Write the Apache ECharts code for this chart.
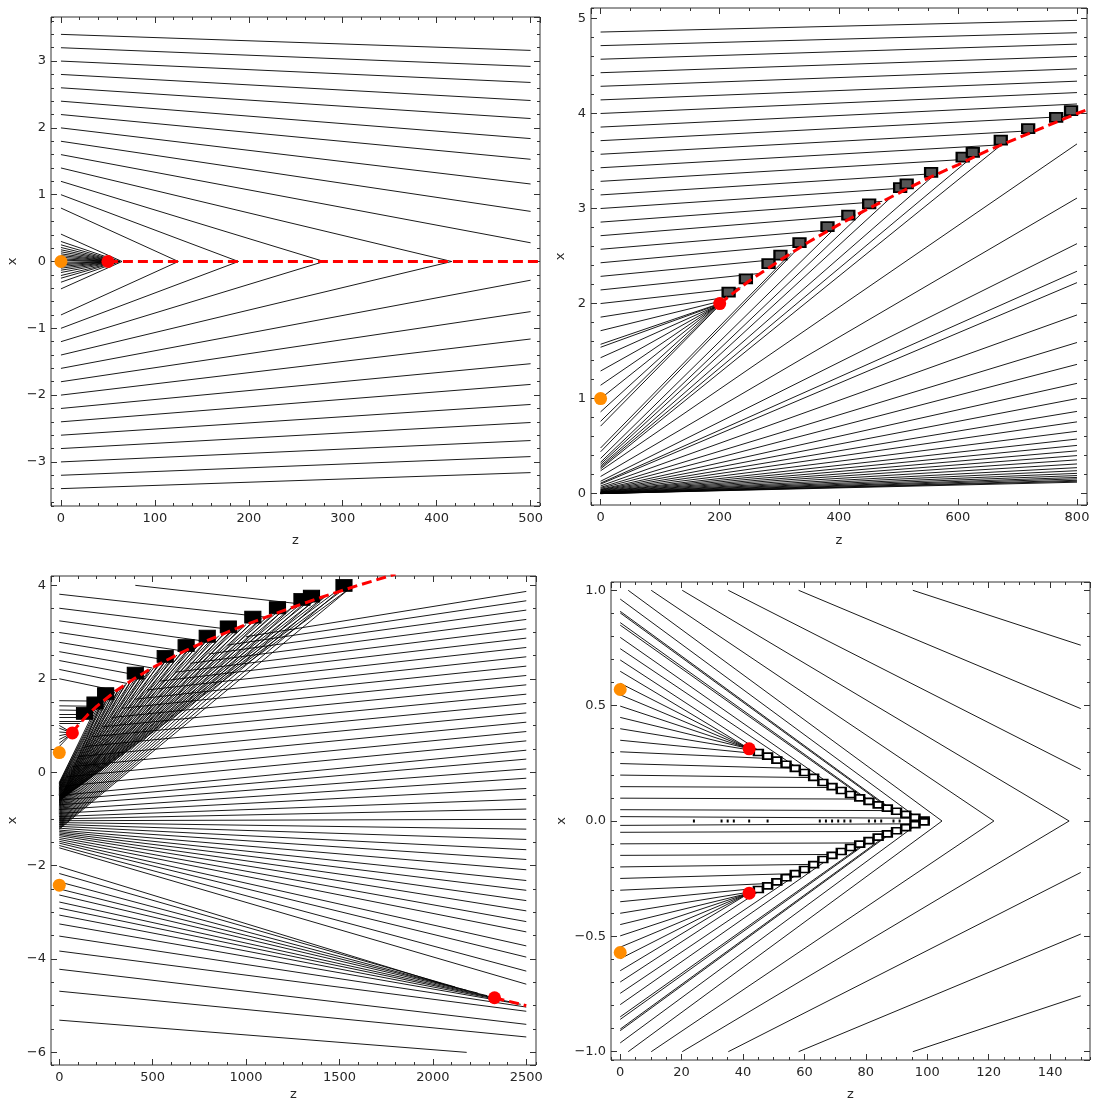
<!DOCTYPE html>
<html>
<head>
<meta charset="utf-8">
<script src="https://cdn.jsdelivr.net/npm/echarts@6/dist/echarts.min.js"></script>
<style>
html, body { margin: 0; padding: 0; background: #fff; }
#chart { width: 1093px; height: 1104px; }
</style>
</head>
<body>
<div id="chart"></div>
<script>
// ---------- panel 1 (top left) ----------
const p1UpStart = [3.4, 3.2, 3.0, 2.8, 2.6, 2.4, 2.2, 2.0, 1.8, 1.6, 1.4, 1.2, 1.0, 0.8, 0.41, 0.30, 0.25, 0.21, 0.175, 0.145, 0.115, 0.09, 0.065, 0.04, 0.02];
const p1UpEndX = [3.16, 2.92, 2.68, 2.41, 2.14, 1.84, 1.53, 1.16, 0.75, 0.28, 0, 0, 0, 0, 0, 0, 0, 0, 0, 0, 0, 0, 0, 0, 0];
const p1LoStart = [-3.4, -3.2, -3.0, -2.8, -2.6, -2.4, -2.2, -2.0, -1.8, -1.6, -1.4, -1.2, -1.0, -0.8, -0.41, -0.31, -0.25, -0.21, -0.165, -0.13, -0.10, -0.075, -0.05, -0.03, -0.01];
const p1LoEndX = [-3.16, -2.92, -2.68, -2.41, -2.14, -1.84, -1.53, -1.16, -0.75, -0.28, 0, 0, 0, 0, 0, 0, 0, 0, 0, 0, 0, 0, 0, 0, 0];
const p1EndZ = [500, 500, 500, 500, 500, 500, 500, 500, 500, 500, 416, 280, 189, 125, 65, 63, 62, 61, 60, 59, 58, 57, 56, 55, 54];
const p1ShockZ = [50, 515];
const p1ShockX = [0, 0];
const p1Orange = [[0, 0]];
const p1Red = [[50, 0]];

// ---------- panel 2 (top right) ----------
const p2UpStart = [4.857, 4.714, 4.571, 4.429, 4.286, 4.143, 4.0, 3.857, 3.714, 3.571, 3.429, 3.286, 3.143, 3.0, 2.857, 2.714, 2.571, 2.429, 2.286, 2.143, 2.0, 1.857, 1.714, 1.571];
const p2UpEndZ = [800, 800, 800, 800, 800, 800, 800, 800, 787, 729, 672, 620, 568, 520, 473, 428, 385, 345, 305, 268, 235, 215, 205, 200];
const p2UpEndX = [4.98, 4.85, 4.73, 4.60, 4.47, 4.34, 4.22, 4.10, 3.97, 3.82, 3.67, 3.52, 3.37, 3.22, 3.075, 2.93, 2.775, 2.626, 2.47, 2.317, 2.165, 2.07, 2.03, 2.0];
const p2MidStart = [1.54, 1.43, 1.29, 1.14, 1.0, 0.86, 0.76, 0.71, 0.48, 0.44, 0.37, 0.33, 0.31, 0.29, 0.275, 0.26];
const p2MidEndZ = [198, 196, 195, 196, 198, 200, 205, 212, 320, 330, 398, 442, 490, 560, 620, 671];
const p2MidEndX = [1.99, 1.98, 1.975, 1.98, 1.99, 2.0, 2.025, 2.06, 2.53, 2.57, 2.82, 2.97, 3.13, 3.35, 3.52, 3.66];
const p2FanStart = [0.24, 0.18, 0.13, 0.11, 0.10, 0.08, 0.065, 0.055, 0.045, 0.04, 0.035, 0.03, 0.025, 0.02, 0.018, 0.015, 0.012, 0.01, 0.008, 0.006, 0.005, 0.004, 0.003, 0.002, 0.001, 0, 0, 0];
const p2FanEnd = [3.68, 3.11, 2.63, 2.34, 2.22, 1.88, 1.59, 1.36, 1.16, 1.0, 0.865, 0.755, 0.656, 0.574, 0.507, 0.45, 0.40, 0.355, 0.312, 0.273, 0.241, 0.213, 0.19, 0.17, 0.155, 0.14, 0.13, 0.12];
const p2ShockZ = [200, 250, 300, 350, 400, 450, 500, 550, 600, 650, 700, 750, 800, 830];
const p2ShockX = [2.0, 2.24, 2.45, 2.65, 2.83, 3.0, 3.16, 3.32, 3.46, 3.61, 3.74, 3.87, 4.0, 4.07];
const p2BoxZ = [215, 244, 282, 302, 334, 381, 416, 451, 503, 514, 555, 608, 625, 672, 718, 765, 790];
const p2BoxX = [2.12, 2.26, 2.42, 2.51, 2.64, 2.81, 2.93, 3.05, 3.22, 3.26, 3.38, 3.54, 3.59, 3.72, 3.84, 3.96, 4.03];
const p2Orange = [[0, 1.0]];
const p2Red = [[200, 2.0]];

// ---------- panel 3 (bottom left) ----------
const p3UpStartZ = [407, 0, 0, 0, 0, 0, 0, 0, 0, 0, 0, 0, 0, 0, 0, 0, 0, 0, 0, 0, 0, 0, 0, 0];
const p3UpStartX = [4.0, 3.81, 3.51, 3.24, 2.99, 2.78, 2.58, 2.39, 2.20, 2.0, 1.53, 1.42, 1.33, 1.25, 1.18, 1.1, 1.05, 1.0, 0.94, 0.86, 0.78, 0.70, 0.62, 0.55];
const p3UpEndZ = [1295, 1100, 928, 785, 670, 575, 498, 428, 362, 303, 230, 200, 175, 155, 140, 120, 110, 70, 70, 70, 70, 70, 70, 70];
const p3UpEndX = [3.6, 3.32, 3.05, 2.80, 2.59, 2.40, 2.23, 2.07, 1.90, 1.745, 1.52, 1.41, 1.32, 1.25, 1.18, 1.10, 1.05, 0.84, 0.84, 0.84, 0.84, 0.84, 0.84, 0.84];
// fan lines running from the dark region at z=0 into the shock
const p3FanStart = [-0.22, -0.24, -0.25, -0.27, -0.28, -0.30, -0.31, -0.33, -0.34, -0.35,
  -0.36, -0.37, -0.38, -0.39, -0.40, -0.41, -0.42, -0.43, -0.44, -0.45,
  -0.46, -0.47, -0.475, -0.48, -0.49, -0.50, -0.505, -0.51, -0.52, -0.525,
  -0.53, -0.54, -0.545, -0.55, -0.56, -0.565, -0.57, -0.58, -0.585, -0.59,
  -0.595, -0.60, -0.605, -0.61];
const p3FanHitZ = [200, 215, 230, 245, 260, 280, 300, 320, 340, 360,
  385, 410, 435, 460, 485, 510, 540, 570, 600, 630,
  660, 690, 720, 750, 785, 820, 855, 890, 925, 960,
  1000, 1040, 1080, 1120, 1160, 1200, 1245, 1290, 1335, 1380,
  1425, 1470, 1515, 1560];
const p3FanHitX = [1.414, 1.466, 1.517, 1.565, 1.612, 1.673, 1.732, 1.789, 1.844, 1.897,
  1.962, 2.025, 2.086, 2.145, 2.202, 2.258, 2.324, 2.387, 2.449, 2.510,
  2.569, 2.627, 2.683, 2.739, 2.802, 2.864, 2.924, 2.983, 3.041, 3.098,
  3.162, 3.225, 3.286, 3.347, 3.406, 3.464, 3.528, 3.592, 3.654, 3.715,
  3.775, 3.834, 3.892, 3.950];
const p3Fan2Start = [-0.64, -0.66, -0.68, -0.70, -0.72, -0.74, -0.76, -0.78, -0.80, -0.82,
  -0.84, -0.86, -0.88, -0.90, -0.92, -0.94, -0.96, -0.98, -1.00, -1.02,
  -1.04, -1.06, -1.08, -1.10, -1.12, -1.14, -1.16, -1.18, -1.20, -1.22];
const p3Fan2HitZ = [230, 260, 290, 320, 350, 385, 420, 455, 490, 530,
  570, 610, 650, 695, 740, 785, 830, 880, 930, 980,
  1030, 1085, 1140, 1195, 1250, 1310, 1370, 1430, 1495, 1560];
const p3Fan2HitX = [1.517, 1.612, 1.703, 1.789, 1.871, 1.962, 2.049, 2.133, 2.214, 2.302,
  2.387, 2.470, 2.550, 2.636, 2.720, 2.802, 2.881, 2.966, 3.050, 3.130,
  3.209, 3.294, 3.376, 3.457, 3.536, 3.619, 3.701, 3.782, 3.866, 3.950];
// rays leaving the dark fan region towards the right edge
const p3RayStartZ = [1000, 900, 800, 700, 620, 540, 470, 400, 340, 280, 230, 180, 140, 100, 70, 40, 20, 0, 0, 0, 0, 0, 0, 0, 0];
const p3RayStartX = [2.90, 2.72, 2.53, 2.33, 2.14, 1.95, 1.76, 1.56, 1.37, 1.17, 0.97, 0.76, 0.55, 0.33, 0.12, -0.10, -0.30, -0.50, -0.60, -0.70, -0.80, -0.88, -0.95, -1.0, -1.04];
const p3RayEnd = [3.87, 3.67, 3.47, 3.27, 3.07, 2.87, 2.67, 2.47, 2.27, 2.07, 1.87, 1.67, 1.47, 1.27, 1.07, 0.87, 0.67, 0.47, 0.28, 0.07, -0.13, -0.35, -0.58, -0.79, -1.01];
const p3DownStart = [-1.08, -1.12, -1.16, -1.2, -1.24, -1.27, -1.30, -1.33, -1.36, -1.40, -1.44, -1.48, -1.52, -1.57, -1.62];
const p3DownEnd = [-1.22, -1.44, -1.66, -1.87, -2.09, -2.32, -2.53, -2.75, -2.97, -3.2, -3.42, -3.72, -3.96, -4.26, -4.54];
const p3LowStart = [-2.02, -2.17, -2.35, -2.5, -2.63, -2.78, -2.91, -3.06, -3.25, -3.51, -3.83, -4.22, -4.69, -5.31];
const p3LowEndZ = [2050, 2120, 2180, 2240, 2290, 2330, 2380, 2430, 2470, 2500, 2500, 2500, 2500, 2181];
const p3LowEndX = [-4.53, -4.60, -4.67, -4.73, -4.785, -4.83, -4.88, -4.93, -4.97, -5.03, -5.12, -5.40, -5.67, -6.0];
const p3ShockZ = [70, 100, 150, 200, 300, 400, 500, 600, 700, 800, 900, 1000, 1200, 1400, 1600, 1800];
const p3ShockX = [0.84, 1.0, 1.22, 1.41, 1.73, 2.0, 2.24, 2.45, 2.65, 2.83, 3.0, 3.16, 3.46, 3.74, 4.0, 4.24];
const p3Shock2Z = [2330, 2400, 2500];
const p3Shock2X = [-4.83, -4.90, -5.0];
const p3BoxZ = [135, 191, 248, 407, 567, 679, 792, 905, 1036, 1168, 1299, 1350, 1524];
const p3BoxX = [1.26, 1.48, 1.68, 2.12, 2.48, 2.71, 2.91, 3.11, 3.32, 3.52, 3.70, 3.77, 4.0];
const p3Orange = [[0, 0.42], [0, -2.42]];
const p3Red = [[70, 0.84], [2330, -4.83]];

// ---------- panel 4 (bottom right) ----------
const p4VStartZ = [2.6, 10.1, 20.2, 35.2, 58.1, 95.3];
const p4VEndZ = [104.8, 121.7, 146.2, 150, 150, 150];
const p4VUpStartX = [1, 1, 1, 1, 1, 1];
const p4VUpEndX = [0, 0, 0, 0.223, 0.487, 0.762];
const p4VLoStartX = [-1, -1, -1, -1, -1, -1];
const p4VLoEndX = [0, 0, 0, -0.223, -0.49, -0.758];
const p4InUpStart = [0.962, 0.909, 0.902, 0.860, 0.849, 0.796, 0.747, 0.698, 0.649, 0.597, 0.547, 0.498, 0.449, 0.400, 0.350, 0.300, 0.249, 0.199, 0.149, 0.099, 0.049, 0.019];
const p4InLoStart = [-0.962, -0.909, -0.902, -0.860, -0.849, -0.796, -0.747, -0.698, -0.649, -0.597, -0.547, -0.498, -0.449, -0.400, -0.350, -0.300, -0.249, -0.199, -0.149, -0.099, -0.049, -0.019];
const p4InEndZ = [96.5, 88.5, 88, 82, 81, 70, 60, 48, 42, 42, 42, 42, 42, 43.5, 46, 50, 57, 63, 70, 79, 89, 97];
const p4InUpEndX = [0.016, 0.05, 0.05, 0.08, 0.085, 0.145, 0.21, 0.28, 0.313, 0.313, 0.313, 0.313, 0.313, 0.305, 0.29, 0.27, 0.228, 0.188, 0.145, 0.095, 0.045, 0.012];
const p4InLoEndX = [-0.016, -0.05, -0.05, -0.08, -0.085, -0.145, -0.21, -0.28, -0.313, -0.313, -0.313, -0.313, -0.313, -0.305, -0.29, -0.27, -0.228, -0.188, -0.145, -0.095, -0.045, -0.012];
const p4BoxZ = [45, 48, 51, 54, 57, 60, 63, 66, 69, 72, 75, 78, 81, 84, 87, 90, 93, 96, 99];
const p4BoxUpX = [0.297, 0.281, 0.264, 0.246, 0.228, 0.21, 0.189, 0.167, 0.149, 0.132, 0.115, 0.10, 0.085, 0.07, 0.056, 0.0425, 0.029, 0.016, 0.004];
const p4BoxLoX = [-0.297, -0.281, -0.264, -0.246, -0.228, -0.21, -0.189, -0.167, -0.149, -0.132, -0.115, -0.10, -0.085, -0.07, -0.056, -0.0425, -0.029, -0.016, -0.004];
const p4AxisMarkZ = [24, 33, 35, 37, 42, 48, 65, 67, 69, 71, 73, 75, 81, 83, 85, 89, 91];
const p4Orange = [[0, 0.57], [0, -0.57]];
const p4Red = [[42, 0.313], [42, -0.313]];

// ---------- helpers ----------
function at(v, i) { return Array.isArray(v) ? v[i] : v; }
function segs(z0, x0, z1, x1) {
    return x0.map((v, i) => ({ coords: [[at(z0, i), v], [at(z1, i), at(x1, i)]] }));
}
function pairs(zs, xs) {
    return zs.map((z, i) => [z, at(xs, i)]);
}
function fmt(d) {
    return (v) => {
        let s = Number(v).toFixed(d);
        if (parseFloat(s) === 0) s = (0).toFixed(d);
        return s.replace('-', '\u2212');
    };
}

const panels = [
    { grid: { left: 51, top: 17, width: 489, height: 489 }, z: [-10.6, 510, 100, 20], x: [-3.66, 3.66, 1, 0.2], zd: 0, xd: 0, zGap: 28, xGap: 32 },
    { grid: { left: 591, top: 8, width: 496, height: 497 }, z: [-16.1, 816.8, 200, 50], x: [-0.12, 5.11, 1, 0.2], zd: 0, xd: 0, zGap: 29, xGap: 24 },
    { grid: { left: 51, top: 576, width: 485, height: 489 }, z: [-44.4, 2552, 500, 100], x: [-6.27, 4.2, 2, 0.5], zd: 0, xd: 0, zGap: 23, xGap: 32 },
    { grid: { left: 611, top: 582, width: 479, height: 478 }, z: [-3, 153, 20, 5], x: [-1.036, 1.036, 0.5, 0.1], zd: 0, xd: 1, zGap: 28, xGap: 43 }
];

const textColor = '#262626';
const tickColor = '#333';
const grids = [], xAxes = [], yAxes = [];

panels.forEach((p, g) => {
    grids.push(Object.assign({ show: true, borderColor: '#333', borderWidth: 1, backgroundColor: 'transparent', containLabel: false, outerBoundsMode: 'none' }, p.grid));
    [['bottom', 'top'], ['left', 'right']].forEach((sides, dim) => {
        const r = dim === 0 ? p.z : p.x;
        sides.forEach((pos, si) => {
            [r[2], r[3]].forEach((iv, k) => {
                const main = si === 0 && k === 0;
                const ax = {
                    gridIndex: g, type: 'value', position: pos,
                    min: r[0], max: r[1],
                    minInterval: iv, maxInterval: iv,
                    splitNumber: Math.round((r[1] - r[0]) / iv),
                    axisLine: { show: false, onZero: false },
                    axisTick: { show: true, inside: true, length: k === 0 ? 6 : 3, lineStyle: { color: tickColor, width: 1 } },
                    axisLabel: {
                        show: main, margin: dim === 0 ? 6 : 5, fontSize: 13, color: textColor,
                        fontFamily: 'DejaVu Sans', showMinLabel: false, showMaxLabel: false,
                        formatter: fmt(dim === 0 ? p.zd : p.xd)
                    },
                    splitLine: { show: false },
                    silent: true
                };
                if (main) {
                    ax.name = dim === 0 ? 'z' : 'x';
                    ax.nameLocation = 'middle';
                    ax.nameGap = dim === 0 ? p.zGap : p.xGap;
                    ax.nameTextStyle = { fontSize: 13, color: textColor, fontFamily: 'DejaVu Sans' };
                    if (dim === 1) ax.nameRotate = 90;
                }
                (dim === 0 ? xAxes : yAxes).push(ax);
            });
        });
    });
});

const series = [];
function addLines(g, data) {
    series.push({
        type: 'lines', coordinateSystem: 'cartesian2d', xAxisIndex: g * 4, yAxisIndex: g * 4,
        data: data, silent: true, clip: true, z: 2,
        lineStyle: { color: '#000', width: 0.9, opacity: 1 }
    });
}
function addShock(g, data) {
    series.push({
        type: 'line', xAxisIndex: g * 4, yAxisIndex: g * 4, data: data, showSymbol: false,
        silent: true, clip: true, z: 5, smooth: false,
        lineStyle: { color: '#ff0000', width: 3, type: [10, 5] }
    });
}
function addBoxes(g, data, size, fill, border, bw) {
    series.push({
        type: 'scatter', xAxisIndex: g * 4, yAxisIndex: g * 4, data: data, symbol: 'rect',
        symbolSize: size, silent: true, z: 3,
        itemStyle: { color: fill, borderColor: border, borderWidth: bw, opacity: 1 }
    });
}
function addDots(g, data, color) {
    series.push({
        type: 'scatter', xAxisIndex: g * 4, yAxisIndex: g * 4, data: data, symbol: 'circle',
        symbolSize: 13, silent: true, z: 10, itemStyle: { color: color, opacity: 1 }
    });
}

// panel 1
addLines(0, segs(0, p1UpStart, p1EndZ, p1UpEndX).concat(segs(0, p1LoStart, p1EndZ, p1LoEndX)));
addShock(0, pairs(p1ShockZ, p1ShockX));
addDots(0, p1Orange, '#ff8c00');
addDots(0, p1Red, '#ff0000');

// panel 2
addLines(1, segs(0, p2UpStart, p2UpEndZ, p2UpEndX)
    .concat(segs(0, p2MidStart, p2MidEndZ, p2MidEndX))
    .concat(segs(0, p2FanStart, 800, p2FanEnd)));
addBoxes(1, pairs(p2BoxZ, p2BoxX), [12, 9], '#555', '#000', 2);
addShock(1, pairs(p2ShockZ, p2ShockX));
addDots(1, p2Orange, '#ff8c00');
addDots(1, p2Red, '#ff0000');

// panel 3
addLines(2, segs(p3UpStartZ, p3UpStartX, p3UpEndZ, p3UpEndX)
    .concat(segs(0, p3FanStart, p3FanHitZ, p3FanHitX))
    .concat(segs(0, p3Fan2Start, p3Fan2HitZ, p3Fan2HitX))
    .concat(segs(p3RayStartZ, p3RayStartX, 2500, p3RayEnd))
    .concat(segs(0, p3DownStart, 2500, p3DownEnd))
    .concat(segs(0, p3LowStart, p3LowEndZ, p3LowEndX)));
addBoxes(2, pairs(p3BoxZ, p3BoxX), [16, 12], '#000', '#000', 1);
addShock(2, pairs(p3ShockZ, p3ShockX));
addShock(2, pairs(p3Shock2Z, p3Shock2X));
addDots(2, p3Orange, '#ff8c00');
addDots(2, p3Red, '#ff0000');

// panel 4
addLines(3, segs(p4VStartZ, p4VUpStartX, p4VEndZ, p4VUpEndX)
    .concat(segs(p4VStartZ, p4VLoStartX, p4VEndZ, p4VLoEndX))
    .concat(segs(0, p4InUpStart, p4InEndZ, p4InUpEndX))
    .concat(segs(0, p4InLoStart, p4InEndZ, p4InLoEndX)));
addBoxes(3, pairs(p4BoxZ, p4BoxUpX).concat(pairs(p4BoxZ, p4BoxLoX)), [9, 6], '#fff', '#000', 2);
addBoxes(3, pairs(p4AxisMarkZ, 0), [2, 3], '#000', '#000', 0);
addDots(3, p4Orange, '#ff8c00');
addDots(3, p4Red, '#ff0000');

const chart = echarts.init(document.getElementById('chart'));
chart.setOption({
    backgroundColor: '#fff',
    animation: false,
    grid: grids,
    xAxis: xAxes,
    yAxis: yAxes,
    series: series
});
</script>
</body>
</html>
